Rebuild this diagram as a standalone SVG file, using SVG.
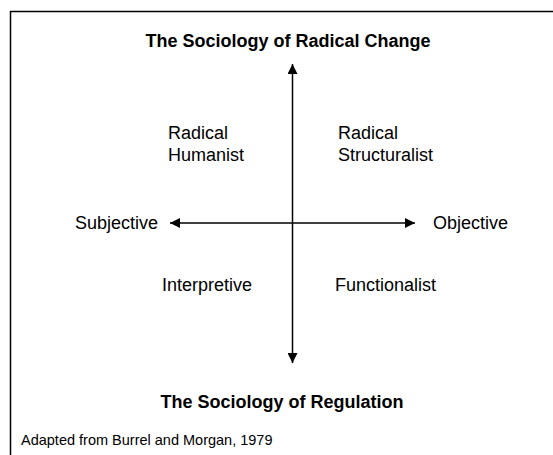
<svg xmlns="http://www.w3.org/2000/svg" width="553" height="455" viewBox="0 0 553 455">
<style>
.t{font-family:"Liberation Sans",Arial,sans-serif;font-size:18px;fill:#000}
.b{font-weight:bold;text-anchor:middle}
.c{font-size:14.5px}
.ax{stroke:#000;stroke-width:1.5;fill:none}
</style>
<defs>
<marker id="ah" viewBox="0 0 10 10" refX="10" refY="5" markerWidth="10" markerHeight="10" markerUnits="userSpaceOnUse" orient="auto">
<path d="M0,0 L10,5 L0,10 z" fill="#000"/>
</marker>
</defs>
<rect width="553" height="455" fill="#fff"/>
<path d="M10.5,460 V11.5 H560" stroke="#000" stroke-width="1.5" fill="none"/>
<g id="title-top"><text class="t b" x="288" y="47">The Sociology of Radical Change</text></g>
<g id="title-bottom"><text class="t b" x="282" y="408">The Sociology of Regulation</text></g>
<g id="radical-humanist"><text class="t" x="168" y="139">Radical</text><text class="t" x="168" y="161">Humanist</text></g>
<g id="radical-structuralist"><text class="t" x="338" y="139">Radical</text><text class="t" x="338" y="161">Structuralist</text></g>
<g id="subjective"><text class="t" x="75" y="229">Subjective</text></g>
<g id="objective"><text class="t" x="433" y="229">Objective</text></g>
<g id="interpretive"><text class="t" x="162" y="291">Interpretive</text></g>
<g id="functionalist"><text class="t" x="335" y="291">Functionalist</text></g>
<g id="connectors">
<line class="ax" x1="292.5" y1="223" x2="292.5" y2="64" marker-end="url(#ah)"/>
<line class="ax" x1="292.5" y1="223" x2="292.5" y2="363" marker-end="url(#ah)"/>
<line class="ax" x1="292.5" y1="223" x2="170" y2="223" marker-end="url(#ah)"/>
<line class="ax" x1="292.5" y1="223" x2="415" y2="223" marker-end="url(#ah)"/>
</g>
<g id="caption"><text class="t c" x="21" y="445">Adapted from Burrel and Morgan, 1979</text></g>
</svg>
